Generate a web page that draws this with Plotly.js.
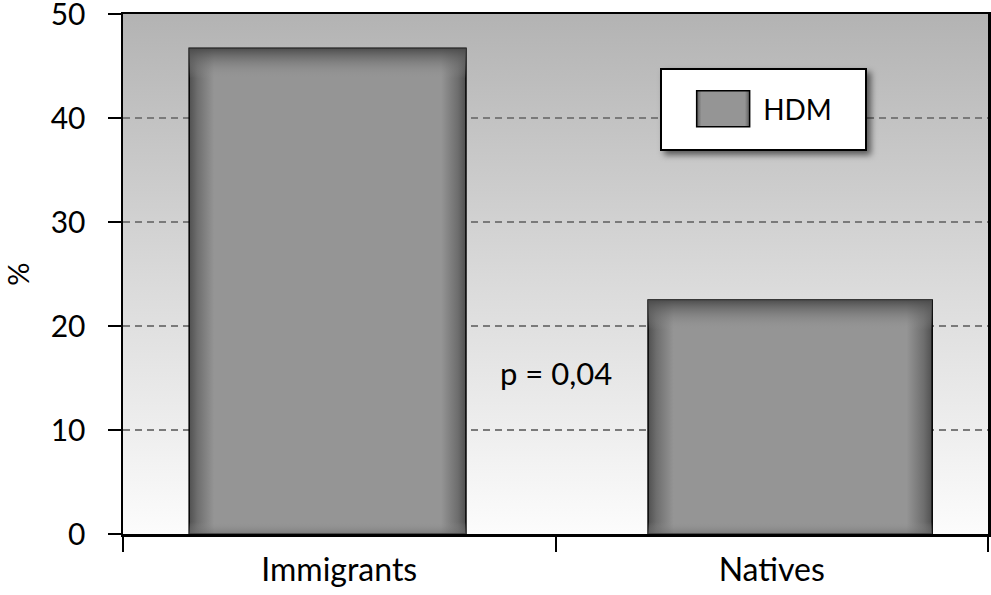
<!DOCTYPE html>
<html>
<head>
<meta charset="utf-8">
<script src="https://cdn.plot.ly/plotly-3.0.1.min.js"></script>
<style>body{margin:0;background:#fff}#chart{width:991px;height:595px}</style>
</head>
<body>
<div id="chart"></div>
<script>
// ---- data ----
const categories = ["Immigrants", "Natives"];
const hdmValues = [46.7, 22.5];
const seriesName = "HDM";
const yTicks = [0, 10, 20, 30, 40, 50];
const pText = "p = 0,04";

const FONT = "Lato, 'Liberation Sans', sans-serif";

const bgSvg = '<svg xmlns="http://www.w3.org/2000/svg" width="10" height="100" preserveAspectRatio="none">' +
  '<defs><linearGradient id="g" x1="0" y1="0" x2="0" y2="1">' +
  '<stop offset="0" stop-color="#b3b3b3"/><stop offset="0.5" stop-color="#d9d9d9"/><stop offset="1" stop-color="#fcfcfc"/>' +
  '</linearGradient></defs><rect width="10" height="100" fill="url(#g)"/></svg>';
const bgUri = "data:image/svg+xml;base64," + btoa(bgSvg);

const trace = {
  type: "bar",
  x: categories,
  y: hdmValues,
  name: seriesName,
  offset: [-0.347, -0.286],
  width: [0.640, 0.657],
  marker: { color: "#959595", line: { color: "#000", width: 1.5 } },
  showlegend: true,
  hoverinfo: "skip"
};

const layout = {
  width: 991, height: 595,
  margin: { l: 123, r: 3, t: 14, b: 61 },
  paper_bgcolor: "#ffffff",
  plot_bgcolor: "rgba(0,0,0,0)",
  font: { family: FONT, color: "#000", size: 28 },
  showlegend: true,
  legend: {
    x: 0.621, y: 0.8966, xanchor: "left", yanchor: "top",
    bgcolor: "#ffffff", bordercolor: "#000", borderwidth: 2,
    font: { family: FONT, size: 28, color: "#000" }
  },
  xaxis: {
    type: "category",
    range: [-0.5, 1.5],
    tickson: "boundaries",
    ticks: "outside", ticklen: 15, tickwidth: 2, tickcolor: "#000",
    showline: true, linecolor: "#000", linewidth: 2.5, mirror: true,
    showgrid: false, zeroline: false,
    tickfont: { family: FONT, size: 32, color: "#000" },
    ticklabelstandoff: 6,
    fixedrange: true
  },
  yaxis: {
    range: [0, 50],
    tickvals: yTicks,
    ticktext: yTicks.map(String),
    ticks: "outside", ticklen: 13, tickwidth: 2.5, tickcolor: "#000",
    showline: true, linecolor: "#000", linewidth: 2.5, mirror: true,
    showgrid: true, gridcolor: "#7a7a7a", gridwidth: 1.5, griddash: "7px,5px",
    zeroline: false,
    tickfont: { family: FONT, size: 30, color: "#000" },
    ticklabelstandoff: 16,
    ticklabeloverflow: "allow",
    title: { text: "%", font: { family: FONT, size: 29, color: "#000" }, standoff: 14 },
    fixedrange: true
  },
  images: [{
    source: bgUri, xref: "paper", yref: "paper",
    x: 0, y: 1, sizex: 1, sizey: 1, xanchor: "left", yanchor: "top",
    sizing: "stretch", layer: "below"
  }],
  annotations: [{
    text: pText, xref: "paper", yref: "y", x: 0.5, y: 15.5,
    showarrow: false, font: { family: FONT, size: 31, color: "#000" }
  }]
};

Plotly.newPlot("chart", [trace], layout, { staticPlot: true, displayModeBar: false }).then(function (gd) {
  const svgNS = "http://www.w3.org/2000/svg";
  const mainSvg = gd.querySelector(".main-svg");
  let defs = mainSvg.querySelector("defs");
  if (!defs) { defs = document.createElementNS(svgNS, "defs"); mainSvg.insertBefore(defs, mainSvg.firstChild); }

  function mkGrad(id, attrs, stops) {
    const g = document.createElementNS(svgNS, "linearGradient");
    g.setAttribute("id", id);
    for (const k in attrs) g.setAttribute(k, attrs[k]);
    stops.forEach(function (s) {
      const st = document.createElementNS(svgNS, "stop");
      st.setAttribute("offset", s[0]);
      st.setAttribute("stop-color", s[1]);
      st.setAttribute("stop-opacity", s[2] === undefined ? 1 : s[2]);
      g.appendChild(st);
    });
    defs.appendChild(g);
  }
  mkGrad("barH", { x1: 0, y1: 0, x2: 1, y2: 0 },
    [[0, "#505050", 1], [0.03, "#6e6e6e"], [0.09, "#959595"], [0.91, "#959595"], [0.97, "#6e6e6e"], [1, "#505050"]]);

  const bars = gd.querySelectorAll(".barlayer .point path");
  bars.forEach(function (p, i) {
    p.style.fill = "url(#barH)";
    const bb = p.getBBox();
    const id = "barV" + i;
    mkGrad(id, { gradientUnits: "userSpaceOnUse", x1: 0, y1: bb.y, x2: 0, y2: bb.y + 30 },
      [[0, "#4a4a4a", 0.95], [1, "#959595", 0]]);
    const ov = p.cloneNode();
    ov.style.fill = "url(#" + id + ")";
    ov.style.stroke = "none";
    ov.style.strokeWidth = "0";
    p.parentNode.appendChild(ov);
    const id2 = "barB" + i;
    mkGrad(id2, { gradientUnits: "userSpaceOnUse", x1: 0, y1: bb.y + bb.height, x2: 0, y2: bb.y + bb.height - 12 },
      [[0, "#6a6a6a", 0.6], [1, "#959595", 0]]);
    const ov2 = p.cloneNode();
    ov2.style.fill = "url(#" + id2 + ")";
    ov2.style.stroke = "none";
    p.parentNode.appendChild(ov2);
  });

  // legend styling
  const leg = gd.querySelector(".legend");
  if (leg) {
    const bg = leg.querySelector("rect.bg");
    bg.setAttribute("width", 205);
    bg.setAttribute("height", 81);
    bg.style.filter = "drop-shadow(4px 4px 3px rgba(0,0,0,0.55))";
    const tr = leg.querySelector(".traces");
    if (tr) tr.setAttribute("transform", "translate(0,41)");
    const sym = leg.querySelector(".legendpoints path");
    if (sym) {
      sym.setAttribute("d", "M26.5,18H-26.5V-18H26.5Z");
      sym.setAttribute("transform", "translate(63,0)");
      sym.style.fill = "url(#barH)";
    }
    const txt = leg.querySelector("text.legendtext");
    if (txt) txt.setAttribute("x", 103);
    const clip = leg.querySelector(".scrollbox");
    if (clip) clip.removeAttribute("clip-path");
    const cp = gd.querySelector("clipPath[id^='legend'] rect");
    if (cp) { cp.setAttribute("width", 205); cp.setAttribute("height", 81); }
  }
});
</script>
</body>
</html>
